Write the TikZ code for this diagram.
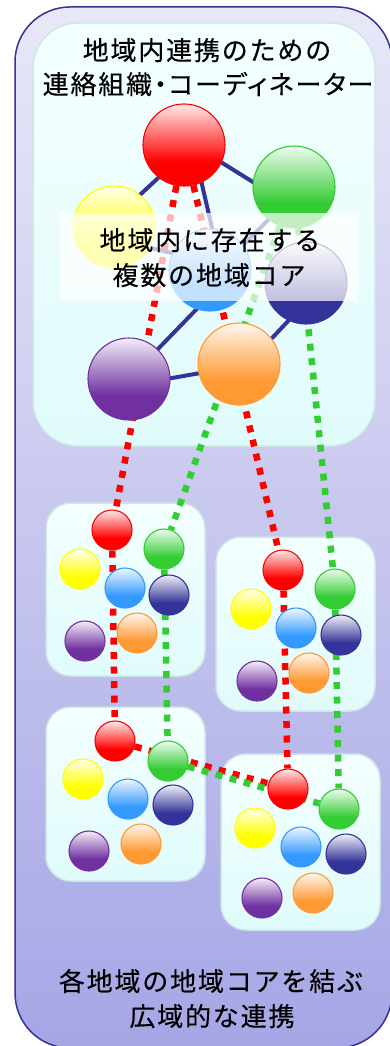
\documentclass[tikz,border=0pt]{standalone}
\usepackage{fontspec}
\newfontfamily\jpfont{Noto Sans CJK JP}[LetterSpace=7,FakeBold=0.3]
\newfontfamily\jpnarrow{Noto Sans CJK JP}[LetterSpace=7,FakeBold=0.3,RawFeature=+palt]

\definecolor{cRed}{HTML}{FF0000}
\definecolor{cGreen}{HTML}{33CC33}
\definecolor{cYellow}{HTML}{FFFF00}
\definecolor{cBlue}{HTML}{3399FF}
\definecolor{cNavy}{HTML}{333399}
\definecolor{cPurple}{HTML}{7030A0}
\definecolor{cOrange}{HTML}{FF9933}
\definecolor{frameTop}{HTML}{E8E8F8}
\definecolor{frameBot}{HTML}{A6A6E6}
\definecolor{frameEdge}{HTML}{333399}
\definecolor{boxTop}{HTML}{F4FFFF}
\definecolor{boxBot}{HTML}{E0FBFB}
\definecolor{boxEdge}{HTML}{CFE6E6}

% glossy ball: pale at the top, full colour over the lower third
\newcommand\makeballshading[1]{%
  \colorlet{#1Hi}{#1!8!white}%
  \pgfdeclareverticalshading{ball#1}{100bp}{%
    color(0bp)=(#1); color(25bp)=(#1); color(40bp)=(#1);
    color(75bp)=(#1Hi); color(100bp)=(#1Hi)}}
\makeballshading{cRed}
\makeballshading{cGreen}
\makeballshading{cYellow}
\makeballshading{cBlue}
\makeballshading{cNavy}
\makeballshading{cPurple}
\makeballshading{cOrange}

\pgfdeclarelayer{back}
\pgfdeclarelayer{wires}
\pgfdeclarelayer{front}
\pgfsetlayers{back,wires,main,front}

\begin{document}
\begin{tikzpicture}[x=1pt,y=-1pt,
  ball/.style={circle, draw=#1, line width=1.1pt, shading=ball#1, inner sep=0pt},
  big/.style={minimum size=82pt},
  small/.style={minimum size=40pt},
  link/.style={draw=cNavy, line width=4pt, shorten <=-3pt, shorten >=-3pt},
  reddots/.style={draw=cRed, line width=6.5pt, dash pattern=on 7pt off 7.5pt},
  greendots/.style={draw=cGreen, line width=6.5pt, dash pattern=on 7pt off 7.5pt},
  region/.style={draw=boxEdge, line width=1.5pt, top color=boxTop, bottom color=boxBot},
  caption/.style={font=\jpfont\fontsize{26}{26}\selectfont, anchor=base, inner sep=0pt}
]
\useasboundingbox (0,0) rectangle (390,1046);

% ---------- backgrounds ----------
\begin{pgfonlayer}{back}
  \begin{scope}
    \clip (0,0) rectangle (390,1046);
    \draw[frameEdge, line width=1.5pt, rounded corners=55pt,
          top color=frameTop, bottom color=frameBot] (15,7) rectangle (392,1048);
  \end{scope}
  \path[region, rounded corners=45pt] (33,23) rectangle (375,446);
  \path[region, rounded corners=25pt] (46,503) rectangle (205,676);
  \path[region, rounded corners=25pt] (216,537) rectangle (375,711);
  \path[region, rounded corners=25pt] (46,707) rectangle (205,881);
  \path[region, rounded corners=25pt] (221,754) rectangle (380,930);
\end{pgfonlayer}

% ---------- regional cores (upper cluster) ----------
\node[ball=cRed, big]    (T-Red)    at (184,145) {};
\node[ball=cGreen, big]  (T-Green)  at (294,187) {};
\node[ball=cYellow, big] (T-Yellow) at (114,227) {};
\node[ball=cBlue, big]   (T-Blue)   at (210,270) {};
\node[ball=cNavy, big]   (T-Navy)   at (306,283) {};
\node[ball=cPurple, big] (T-Purple) at (129,379) {};
\node[ball=cOrange, big] (T-Orange) at (239,364) {};

% ---------- four regions ----------
\foreach \c/\x/\y in {Red/112/530, Green/164/549, Yellow/80/569, Blue/125/588,
                      Navy/169/595, Purple/85/641, Orange/137/633}
  \node[ball=c\c, small] (A-\c) at (\x,\y) {};
\foreach \c/\x/\y in {Red/283/570, Green/335/589, Yellow/251/609, Blue/296/628,
                      Navy/341/635, Purple/257/681, Orange/309/673}
  \node[ball=c\c, small] (B-\c) at (\x,\y) {};
\foreach \c/\x/\y in {Red/115/741, Green/168/761, Yellow/83/779, Blue/128/799,
                      Navy/173/805, Purple/89/851, Orange/141/844}
  \node[ball=c\c, small] (C-\c) at (\x,\y) {};
\foreach \c/\x/\y in {Red/288/789, Green/339/809, Yellow/255/828, Blue/301/847,
                      Navy/346/854, Purple/262/898, Orange/313/893}
  \node[ball=c\c, small] (D-\c) at (\x,\y) {};

% ---------- connectors ----------
\begin{pgfonlayer}{wires}
  \draw[link] (T-Red.-25)    -- (T-Green.173);
  \draw[link] (T-Red.232)    -- (T-Yellow.51);
  \draw[link] (T-Red.-65)    -- (T-Blue.87);
  \draw[link] (T-Yellow.-30) -- (T-Blue.156);
  \draw[link] (T-Green.232)  -- (T-Blue.37);
  \draw[link] (T-Blue.251)   -- (T-Purple.46);
  \draw[link] (T-Purple.1)   -- (T-Orange.193);
  \draw[link] (T-Navy.-115)  -- (T-Orange.38);

  \draw[reddots]   (T-Red)   -- (A-Red);
  \draw[reddots]   (T-Red)   -- (B-Red);
  \draw[greendots] (T-Green) -- (A-Green);
  \draw[greendots] (T-Green) -- (B-Green);

  \draw[reddots]   (A-Red)   -- (C-Red);
  \draw[greendots] (A-Green) -- (C-Green);
  \draw[reddots]   (B-Red)   -- (D-Red);
  \draw[greendots] (B-Green) -- (D-Green);
  \draw[reddots]   (C-Red)   -- (D-Red);
  \draw[greendots] (C-Green) -- (D-Green);
\end{pgfonlayer}

% ---------- labels ----------
\begin{pgfonlayer}{front}
  \fill[white, opacity=0.7] (60,213) rectangle (358,301);
  \node[caption] (title1) at (207,60) {地域内連携のための};
  \node[caption, font=\jpnarrow\fontsize{26}{26}\selectfont] (title2) at (208,94) {連絡組織・コーディネーター};
  \node[caption] (mid1) at (210,250) {地域内に存在する};
  \node[caption] (mid2) at (209,285) {複数の地域コア};
  \node[caption] (foot1) at (211,991) {各地域の地域コアを結ぶ};
  \node[caption] (foot2) at (212,1026) {広域的な連携};
\end{pgfonlayer}
\end{tikzpicture}
\end{document}
